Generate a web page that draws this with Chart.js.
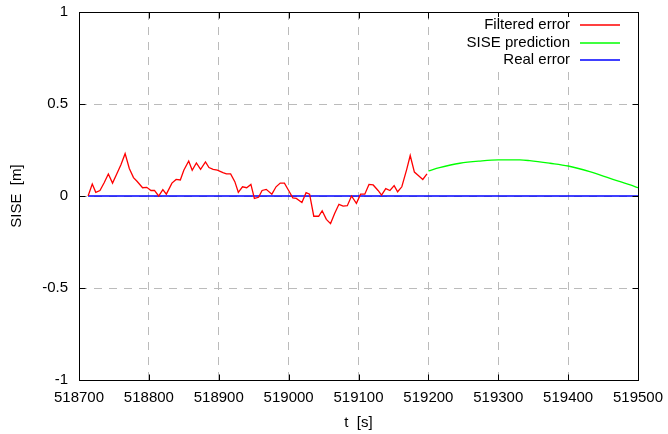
<!DOCTYPE html>
<html>
<head>
<meta charset="utf-8">
<script src="https://cdn.jsdelivr.net/npm/chart.js@4/dist/chart.umd.min.js"></script>
<style>
  html, body { margin: 0; padding: 0; background: #fff; }
  #wrap { width: 668px; height: 434px; }
</style>
</head>
<body>
<div id="wrap"><canvas id="sise" width="668" height="434"></canvas></div>
<script>
// filtered error (red)
const filtTime = [518713, 518719, 518724, 518730, 518736, 518742, 518748, 518754, 518760, 518766,
  518772, 518778, 518783, 518791, 518797, 518803, 518808, 518814, 518820, 518825,
  518833, 518839, 518845, 518850, 518857, 518862, 518868, 518874, 518881, 518886,
  518892, 518898, 518906, 518911, 518917, 518923, 518928, 518934, 518940, 518946,
  518951, 518957, 518962, 518968, 518976, 518982, 518988, 518994, 519000, 519006,
  519011, 519019, 519025, 519030, 519036, 519043, 519048, 519054, 519060, 519066,
  519072, 519078, 519084, 519090, 519097, 519103, 519109, 519115, 519121, 519128,
  519133, 519139, 519145, 519151, 519156, 519162, 519169, 519174, 519180, 519186,
  519192, 519198];
const filtError = [0.00, 0.065, 0.02, 0.03, 0.072, 0.12, 0.07, 0.12, 0.17, 0.23,
  0.15, 0.10, 0.08, 0.045, 0.047, 0.03, 0.03, 0.0, 0.035, 0.01,
  0.07, 0.09, 0.087, 0.14, 0.19, 0.14, 0.18, 0.145, 0.185, 0.155,
  0.145, 0.14, 0.127, 0.12, 0.12, 0.078, 0.02, 0.05, 0.045, 0.063,
  -0.013, -0.007, 0.03, 0.036, 0.01, 0.05, 0.07, 0.07, 0.03, -0.01,
  -0.013, -0.035, 0.018, 0.01, -0.11, -0.11, -0.08, -0.127, -0.15, -0.094,
  -0.045, -0.055, -0.053, 0.0, -0.04, 0.01, 0.01, 0.063, 0.06, 0.03,
  0.005, 0.04, 0.03, 0.056, 0.023, 0.05, 0.145, 0.22, 0.13, 0.11,
  0.09, 0.12];

// SISE prediction (green)
const predTime = [519200, 519216, 519245, 519274, 519300, 519331, 519345, 519374, 519400, 519431, 519460, 519489, 519500];
const predError = [0.136, 0.154, 0.178, 0.19, 0.196, 0.196, 0.192, 0.178, 0.163, 0.132, 0.096, 0.06, 0.045];

// real error (blue)
const realTime = [518713, 519000, 519200, 519500];
const realError = [0, 0, 0, 0];

const xTicks = [518700, 518800, 518900, 519000, 519100, 519200, 519300, 519400, 519500];
const yTicks = [-1, -0.5, 0, 0.5, 1];

const FONT = '"Liberation Sans", Arial, Helvetica, sans-serif';
const lineColors = ['#ff0000', '#00ff00', '#0000ff'];

function pts(xs, ys) {
  return xs.map((x, i) => ({ x: x, y: ys[i] }));
}

// gnuplot style frame with inward ticks on all four sides
const framePlugin = {
  id: 'frame',
  afterDatasetsDraw(chart) {
    const { ctx, chartArea: a, scales } = chart;
    const L = Math.round(a.left) + 0.5, R = Math.round(a.right) + 0.5;
    const T = Math.round(a.top) + 0.5, B = Math.round(a.bottom) + 0.5;
    ctx.save();
    ctx.strokeStyle = '#000';
    ctx.lineWidth = 1;
    ctx.beginPath();
    xTicks.forEach(v => {
      const px = Math.round(scales.x.getPixelForValue(v)) + 0.5;
      ctx.moveTo(px, B); ctx.lineTo(px, B - 6);
      ctx.moveTo(px, T); ctx.lineTo(px, T + 6);
    });
    yTicks.forEach(v => {
      const py = Math.round(scales.y.getPixelForValue(v)) + 0.5;
      ctx.moveTo(L, py); ctx.lineTo(L + 6, py);
      ctx.moveTo(R, py); ctx.lineTo(R - 6, py);
    });
    ctx.stroke();
    ctx.strokeRect(L, T, R - L, B - T);
    ctx.restore();
  }
};

// key in the top right corner: text right aligned, sample line after it
const keyPlugin = {
  id: 'key',
  afterDatasetsDraw(chart) {
    const ctx = chart.ctx;
    const textRight = 570, lineL = 580, lineR = 620;
    const rows = [25, 42.5, 60];
    ctx.save();
    ctx.fillStyle = '#fff';
    ctx.fillRect(462, 17, 166, 51);
    ctx.font = '15px ' + FONT;
    ctx.textAlign = 'right';
    ctx.textBaseline = 'middle';
    chart.data.datasets.forEach((ds, i) => {
      const y = Math.round(rows[i]);
      ctx.fillStyle = '#000';
      ctx.fillText(ds.label, textRight, y);
      ctx.strokeStyle = lineColors[i];
      ctx.lineWidth = 1.4;
      ctx.beginPath();
      ctx.moveTo(lineL, y);
      ctx.lineTo(lineR, y);
      ctx.stroke();
    });
    ctx.restore();
  }
};

new Chart(document.getElementById('sise'), {
  type: 'line',
  data: {
    datasets: [
      {
        label: 'Filtered error',
        data: pts(filtTime, filtError),
        borderColor: lineColors[0],
        borderWidth: 1.3,
        pointRadius: 0,
        tension: 0
      },
      {
        label: 'SISE prediction',
        data: pts(predTime, predError),
        borderColor: lineColors[1],
        borderWidth: 1.3,
        pointRadius: 0,
        cubicInterpolationMode: 'monotone'
      },
      {
        label: 'Real error',
        data: pts(realTime, realError),
        borderColor: lineColors[2],
        borderWidth: 1.4,
        pointRadius: 0,
        tension: 0
      }
    ]
  },
  options: {
    responsive: false,
    animation: false,
    layout: { padding: { top: 12, right: 30, left: 0, bottom: 0 } },
    plugins: {
      legend: { display: false },
      tooltip: { enabled: false }
    },
    scales: {
      x: {
        type: 'linear',
        min: 518700,
        max: 519500,
        afterBuildTicks: s => { s.ticks = xTicks.map(v => ({ value: v })); },
        afterFit: s => { s.height = 54; s.paddingLeft = 0; s.paddingRight = 0; },
        ticks: {
          color: '#000',
          padding: 9,
          maxRotation: 0,
          autoSkip: false,
          font: { family: FONT, size: 15 },
          callback: v => String(v)
        },
        grid: { color: '#bbbbbb', lineWidth: 1, drawTicks: false },
        border: { display: false, dash: [8, 7] },
        title: {
          display: true,
          text: 't  [s]',
          color: '#000',
          font: { family: FONT, size: 15 },
          padding: { top: 0, bottom: 2 }
        }
      },
      y: {
        min: -1,
        max: 1,
        afterBuildTicks: s => { s.ticks = yTicks.map(v => ({ value: v })); },
        afterFit: s => { s.width = 79; s.paddingTop = 0; s.paddingBottom = 0; },
        ticks: {
          color: '#000',
          padding: 11,
          font: { family: FONT, size: 15 },
          callback: v => String(v)
        },
        grid: { color: '#bbbbbb', lineWidth: 1, drawTicks: false },
        border: { display: false, dash: [8, 7] },
        title: {
          display: true,
          text: 'SISE  [m]',
          color: '#000',
          font: { family: FONT, size: 15 },
          padding: { top: 8, bottom: 0 }
        }
      }
    }
  },
  plugins: [framePlugin, keyPlugin]
});
</script>
</body>
</html>
